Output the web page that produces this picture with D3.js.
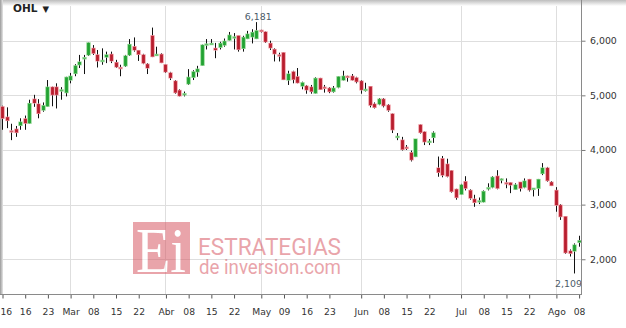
<!DOCTYPE html>
<html>
<head>
<meta charset="utf-8">
<script src="https://cdn.jsdelivr.net/npm/d3@7/dist/d3.min.js"></script>
<style>
  body { margin: 0; background: #fff; }
  svg { display: block; font-family: "DejaVu Sans", Verdana, sans-serif; }
</style>
</head>
<body>
<div id="chart"></div>
<script>
// Daily OHLC values (euros), one per trading day
const opens = [4.79, 4.60, 4.35, 4.38, 4.45, 4.57, 4.49, 4.93, 4.84, 4.73,
  4.80, 5.15, 5.15, 5.09, 5.05, 5.28, 5.40, 5.56, 5.68, 5.74,
  5.86, 5.74, 5.63, 5.70, 5.75, 5.60, 5.51, 5.54, 5.74, 5.89,
  5.82, 5.74, 5.57, 6.09, 5.74, 5.75, 5.56, 5.41, 5.26, 5.09,
  5.02, 5.21, 5.33, 5.43, 5.55, 5.93, 5.94, 5.86, 5.88, 5.92,
  6.01, 6.07, 6.09, 5.86, 6.04, 6.07, 6.04, 6.19, 6.16, 5.95,
  5.84, 5.74, 5.78, 5.28, 5.43, 5.34, 5.17, 5.17, 5.15, 5.04,
  5.31, 5.15, 5.13, 5.07, 5.15, 5.28, 5.35, 5.35, 5.32, 5.26,
  5.11, 5.16, 4.84, 4.84, 4.93, 4.82, 4.66, 4.24, 4.18, 4.05,
  3.95, 3.88, 4.46, 4.33, 4.15, 4.23, 3.67, 3.84, 3.74, 3.62,
  3.28, 3.19, 3.42, 3.26, 3.10, 3.07, 3.05, 3.30, 3.32, 3.52,
  3.46, 3.40, 3.40, 3.28, 3.41, 3.32, 3.46, 3.29, 3.30, 3.57,
  3.67, 3.41, 3.26, 2.99, 2.78, 2.15, 2.15, 2.31]
const highs = [4.81, 4.78, 4.48, 4.44, 4.58, 4.63, 4.92, 5.01, 4.93, 4.87,
  5.28, 5.16, 5.22, 5.15, 5.34, 5.41, 5.57, 5.74, 5.74, 5.97,
  5.92, 5.83, 5.86, 5.80, 5.80, 5.65, 5.56, 5.74, 6.03, 6.06,
  5.83, 5.76, 5.59, 6.24, 5.89, 5.77, 5.57, 5.43, 5.28, 5.11,
  5.07, 5.48, 5.46, 5.54, 5.93, 6.03, 6.03, 5.96, 5.98, 6.04,
  6.16, 6.14, 6.09, 6.09, 6.18, 6.21, 6.34, 6.20, 6.17, 6.00,
  5.86, 5.78, 5.79, 5.45, 5.45, 5.50, 5.25, 5.19, 5.19, 5.33,
  5.32, 5.19, 5.15, 5.17, 5.35, 5.45, 5.36, 5.39, 5.34, 5.28,
  5.23, 5.17, 4.87, 4.95, 4.95, 4.84, 4.67, 4.31, 4.24, 4.09,
  3.99, 4.20, 4.47, 4.34, 4.20, 4.34, 3.88, 3.89, 3.84, 3.63,
  3.29, 3.38, 3.52, 3.28, 3.18, 3.13, 3.26, 3.39, 3.52, 3.63,
  3.48, 3.48, 3.41, 3.39, 3.41, 3.48, 3.47, 3.30, 3.47, 3.76,
  3.69, 3.43, 3.32, 3.01, 2.79, 2.18, 2.29, 2.43]
const lows = [4.37, 4.40, 4.18, 4.24, 4.37, 4.37, 4.48, 4.79, 4.58, 4.70,
  4.79, 4.80, 4.76, 4.92, 4.98, 5.22, 5.35, 5.50, 5.39, 5.72,
  5.74, 5.51, 5.56, 5.59, 5.59, 5.50, 5.35, 5.52, 5.72, 5.80,
  5.63, 5.57, 5.39, 5.70, 5.72, 5.59, 5.41, 5.28, 5.03, 4.98,
  4.98, 5.19, 5.28, 5.34, 5.54, 5.84, 5.93, 5.68, 5.84, 5.89,
  6.00, 5.84, 5.80, 5.80, 6.03, 5.95, 6.03, 6.15, 5.96, 5.83,
  5.62, 5.62, 5.28, 5.19, 5.22, 5.22, 5.11, 5.03, 5.03, 5.03,
  5.10, 5.05, 5.04, 5.05, 5.13, 5.27, 5.25, 5.27, 5.22, 5.03,
  5.07, 4.78, 4.76, 4.82, 4.78, 4.70, 4.31, 4.18, 3.99, 4.00,
  3.79, 3.87, 4.30, 4.09, 4.09, 4.13, 3.51, 3.50, 3.50, 3.22,
  3.09, 3.18, 3.26, 3.09, 2.96, 3.01, 3.04, 3.26, 3.30, 3.28,
  3.39, 3.30, 3.21, 3.27, 3.24, 3.30, 3.24, 3.15, 3.16, 3.54,
  3.42, 3.34, 2.87, 2.72, 2.10, 2.05, 1.74, 2.23]
const closes = [4.58, 4.54, 4.34, 4.32, 4.51, 4.49, 4.85, 4.86, 4.67, 4.81,
  5.15, 5.01, 5.01, 5.10, 5.33, 5.35, 5.54, 5.61, 5.69, 5.96,
  5.77, 5.63, 5.64, 5.74, 5.63, 5.52, 5.50, 5.72, 5.93, 5.83,
  5.75, 5.59, 5.50, 5.71, 5.75, 5.60, 5.43, 5.32, 5.05, 4.99,
  5.03, 5.33, 5.43, 5.48, 5.92, 5.94, 5.95, 5.83, 5.95, 5.99,
  6.10, 6.07, 5.84, 6.06, 6.12, 6.15, 6.181, 6.17, 5.98, 5.87,
  5.76, 5.72, 5.29, 5.39, 5.29, 5.23, 5.23, 5.10, 5.07, 5.31,
  5.11, 5.13, 5.07, 5.13, 5.34, 5.35, 5.34, 5.28, 5.25, 5.10,
  5.11, 4.82, 4.78, 4.93, 4.81, 4.73, 4.37, 4.25, 4.01, 4.04,
  3.82, 4.20, 4.32, 4.15, 4.16, 4.31, 3.59, 3.54, 3.52, 3.24,
  3.13, 3.36, 3.30, 3.12, 3.04, 3.07, 3.24, 3.31, 3.50, 3.30,
  3.47, 3.38, 3.36, 3.36, 3.30, 3.43, 3.27, 3.30, 3.46, 3.67,
  3.44, 3.35, 2.99, 2.78, 2.12, 2.109, 2.26, 2.34]

// x-axis ticks: trading-day index and label
const tickIdx = [0, 5, 10, 15, 20, 25, 30, 36, 41, 46, 51, 57, 62, 67, 72, 79,
  84, 89, 94, 101, 106, 111, 116, 122, 127]
const tickLabels = ['16', '16', '23', 'Mar', '08', '15', '22', 'Abr', '08', '15', '22',
  'May', '09', '16', '23', 'Jun', '08', '15', '22', 'Jul', '08', '15', '22', 'Ago', '08']
const monthLabels = ['Mar', 'Abr', 'May', 'Jun', 'Jul', 'Ago']
const yTicks = [2, 3, 4, 5, 6]
const title = 'OHL'

;(() => {
  const width = 626
  const height = 328
  const plotLeft = 2
  const plotRight = 582
  const plotBottom = 294.5

  const svg = d3.select('#chart')
    .append('svg')
    .attr('width', width)
    .attr('height', height)

  const es = d3.formatLocale({ decimal: ',', thousands: '.', grouping: [3], currency: ['', ' €'] })
  const fmt = es.format('.3f')

  // Scales
  const x = d3.scaleLinear().domain([0, opens.length - 1]).range([2, 578.6])
  const y = d3.scaleLinear().domain([1.355, 6.745]).range([plotBottom, 0])

  const defs = svg.append('defs')
  const topGrad = defs.append('linearGradient').attr('id', 'topGrad')
    .attr('x1', 0).attr('y1', 0).attr('x2', 0).attr('y2', 1)
  topGrad.append('stop').attr('offset', 0).attr('stop-color', '#bdbdbd')
  topGrad.append('stop').attr('offset', 1).attr('stop-color', '#fff')
  const leftGrad = defs.append('linearGradient').attr('id', 'leftGrad')
    .attr('x1', 0).attr('y1', 0).attr('x2', 1).attr('y2', 0)
  leftGrad.append('stop').attr('offset', 0).attr('stop-color', '#9a9a9a')
  leftGrad.append('stop').attr('offset', 1).attr('stop-color', '#e6e6e6')

  // Gridlines
  svg.append('g')
    .selectAll('line')
    .data(yTicks)
    .join('line')
    .attr('x1', plotLeft).attr('x2', plotRight)
    .attr('y1', d => Math.round(y(d)) + 0.5).attr('y2', d => Math.round(y(d)) + 0.5)
    .attr('stroke', '#dedede')

  const monthIdx = tickIdx.filter((d, i) => monthLabels.includes(tickLabels[i]))
  svg.append('g')
    .selectAll('line')
    .data(monthIdx)
    .join('line')
    .attr('x1', d => Math.round(x(d)) + 0.5).attr('x2', d => Math.round(x(d)) + 0.5)
    .attr('y1', 0).attr('y2', plotBottom)
    .attr('stroke', '#dedede')

  // Frame shading
  svg.append('rect').attr('x', 0).attr('y', 0).attr('width', width).attr('height', 6)
    .attr('fill', 'url(#topGrad)')
  svg.append('rect').attr('x', 0).attr('y', 0).attr('width', 3).attr('height', plotBottom)
    .attr('fill', 'url(#leftGrad)')

  // Watermark
  const wm = svg.append('g').attr('opacity', 0.55)
  wm.append('rect').attr('x', 133).attr('y', 222).attr('width', 57).attr('height', 52)
    .attr('fill', '#d85a66')
  wm.append('text').attr('x', 136).attr('y', 271.5)
    .attr('font-family', '"Liberation Serif", serif').attr('font-size', 64)
    .attr('textLength', 50).attr('lengthAdjust', 'spacingAndGlyphs')
    .attr('fill', '#fff').text('Ei')
  // both brand lines in one text element
  const brand = wm.append('text')
    .attr('font-family', 'Roboto, sans-serif')
    .attr('fill', '#d85a66')
  brand.append('tspan').attr('x', 198).attr('y', 255)
    .attr('font-size', 23.5)
    .attr('textLength', 143).attr('lengthAdjust', 'spacingAndGlyphs')
    .text('ESTRATEGIAS')
  brand.append('tspan').attr('x', 199).attr('y', 273.5)
    .attr('font-size', 20.5)
    .attr('textLength', 142).attr('lengthAdjust', 'spacingAndGlyphs')
    .text('de inversion.com')

  // Candles
  const idx = d3.range(opens.length)
  const candles = svg.append('g')
    .selectAll('g')
    .data(idx)
    .join('g')

  candles.append('line')
    .attr('x1', i => Math.round(x(i)) + 0.5).attr('x2', i => Math.round(x(i)) + 0.5)
    .attr('y1', i => y(highs[i])).attr('y2', i => y(lows[i]))
    .attr('stroke', '#111')
    .attr('stroke-width', 1)

  const up = i => closes[i] >= opens[i]
  const bodyTop = i => y(Math.max(opens[i], closes[i]))
  const bodyH = i => Math.max(1.2, Math.abs(y(opens[i]) - y(closes[i])))

  candles.append('rect')
    .attr('x', i => Math.round(x(i)) + 0.5 - 2.3)
    .attr('y', i => bodyTop(i) - 0.6)
    .attr('width', 4.6)
    .attr('height', i => bodyH(i) + 1.2)
    .attr('fill', i => up(i) ? '#9fdc9f' : '#f2a3ab')

  candles.append('rect')
    .attr('x', i => Math.round(x(i)) + 0.5 - 1.4)
    .attr('y', bodyTop)
    .attr('width', 2.8)
    .attr('height', bodyH)
    .attr('fill', i => up(i) ? '#22a232' : '#b81d2e')
    .attr('opacity', i => Math.abs(y(opens[i]) - y(closes[i])) < 1.5 ? 0.55 : 1)

  // Max / min close labels
  const iMax = d3.maxIndex(closes)
  const iMin = d3.minIndex(closes)
  svg.append('text')
    .attr('x', x(iMax) + 2).attr('y', y(highs[iMax]) - 2.5)
    .attr('text-anchor', 'middle').attr('font-size', 9.4).attr('fill', '#4b5b69')
    .text(fmt(closes[iMax]))
  svg.append('text')
    .attr('x', x(iMin) - 1).attr('y', y(d3.min(lows)) + 13.5)
    .attr('text-anchor', 'middle').attr('font-size', 9.4).attr('fill', '#4b5b69')
    .text(fmt(closes[iMin]))

  // Right axis - price
  const yAxis = svg.append('g')
    .attr('transform', `translate(${plotRight - 0.5}, 0)`)
    .call(d3.axisRight(y).tickValues(yTicks).tickFormat(fmt).tickSize(4).tickSizeOuter(0).tickPadding(4.5))
  yAxis.select('.domain').remove()
  yAxis.selectAll('line').attr('stroke', '#7a7a7a')
  yAxis.selectAll('text').attr('font-size', 9.4).attr('fill', '#333')
    .attr('font-family', '"DejaVu Sans", Verdana, sans-serif')
  svg.append('line')
    .attr('x1', plotRight - 0.5).attr('x2', plotRight - 0.5)
    .attr('y1', 0).attr('y2', plotBottom + 0.5)
    .attr('stroke', '#8a8a8a')

  // Bottom axis - dates
  const xAxis = svg.append('g')
    .attr('transform', `translate(0.5, ${plotBottom})`)
    .call(d3.axisBottom(x).tickValues(tickIdx).tickFormat((d, i) => tickLabels[i]).tickSize(4).tickSizeOuter(0).tickPadding(9.5))
  xAxis.select('.domain').remove()
  xAxis.selectAll('line').attr('stroke', '#555')
  xAxis.selectAll('text').attr('font-size', 9.2).attr('fill', '#333')
    .attr('font-family', '"DejaVu Sans", Verdana, sans-serif')
  xAxis.selectAll('.tick').filter(d => d === 0).select('text')
    .attr('text-anchor', 'start').attr('x', -2.5)
  svg.append('line')
    .attr('x1', 0).attr('x2', plotRight)
    .attr('y1', plotBottom).attr('y2', plotBottom)
    .attr('stroke', '#8a8a8a')

  // Title
  const t = svg.append('text').attr('x', 13).attr('y', 12)
    .attr('font-size', 10.5).attr('font-weight', 'bold').attr('fill', '#222')
  t.append('tspan').text(title)
  t.append('tspan').attr('dx', 5).attr('font-size', 8.5).text('▼')
})()
</script>
</body>
</html>
